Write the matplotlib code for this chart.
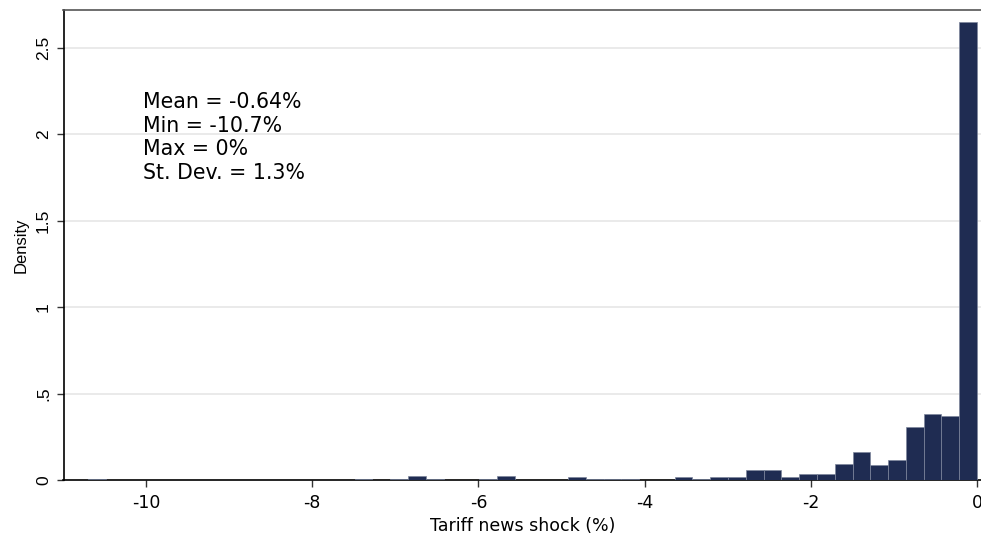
import numpy as np
import matplotlib
matplotlib.use("Agg")
import matplotlib.pyplot as plt

plt.rcParams['font.family'] = ['DejaVu Sans']

# Histogram of the tariff news shock: 50 equal-width bins from the minimum to 0
bin_start = -10.7
bin_width = 0.214
density = [
    0.004, 0, 0, 0, 0, 0, 0, 0, 0, 0,
    0, 0, 0, 0, 0, 0.003, 0, 0.004, 0.025, 0.006,
    0, 0, 0.004, 0.021, 0, 0, 0, 0.016, 0.003, 0.006,
    0.006, 0, 0, 0.016, 0.005, 0.016, 0.016, 0.058, 0.058, 0.016,
    0.035, 0.035, 0.092, 0.164, 0.088, 0.117, 0.305, 0.379, 0.371, 2.65,
]

x_ticks = [-10, -8, -6, -4, -2, 0]
x_tick_labels = ["-10", "-8", "-6", "-4", "-2", "0"]
y_ticks = [0, 0.5, 1, 1.5, 2, 2.5]
y_tick_labels = ["0", ".5", "1", "1.5", "2", "2.5"]

stats_lines = ["Mean = -0.64%", "Min = -10.7%", "Max = 0%", "St. Dev. = 1.3%"]

W, H = 981, 536
fig = plt.figure(figsize=(W / 100, H / 100), dpi=100)
ax = fig.add_axes([63.5 / W, 1 - 480 / H, (981 - 63.5) / W, (480 - 10) / H])

lefts = bin_start + bin_width * np.arange(len(density))
ax.bar(lefts, density, width=bin_width, align='edge',
       color='#1f2c52', edgecolor='#7d869c', linewidth=0.5, zorder=3)

ax.set_xlim(-10.993, 0.048)
ax.set_ylim(0, 2.718)

ax.set_xticks(x_ticks)
ax.set_xticklabels(x_tick_labels, fontsize=12.5, family='DejaVu Sans')
ax.set_yticks(y_ticks)
ax.set_yticklabels(y_tick_labels, fontsize=12.5, rotation=90, va='center',
                   family='Liberation Sans')
ax.tick_params(axis='both', direction='out', length=5, width=1, color='#333333')
ax.tick_params(axis='x', pad=5)
ax.tick_params(axis='y', pad=4)

for y in y_ticks[1:]:
    ax.axhline(y, color='#e6e6e6', linewidth=1.2, zorder=1)

ax.set_xlabel("Tariff news shock (%)", fontsize=12.5, labelpad=4, family='DejaVu Sans')
ax.set_ylabel("Density", fontsize=12, labelpad=5, family='Liberation Sans')

for side in ['left', 'bottom']:
    ax.spines[side].set_color('black')
    ax.spines[side].set_linewidth(1.2)
ax.spines['top'].set_color('#555555')
ax.spines['top'].set_linewidth(1.2)
ax.spines['right'].set_visible(False)

# Summary statistics block in the upper left
y0 = 2.152
step = 23.7 / 172.9
for i, line in enumerate(stats_lines):
    ax.text(-10.04, y0 - i * step, line, fontsize=14.8, va='baseline', ha='left',
            color='black', zorder=4, family='DejaVu Sans')

fig.savefig("out.png", dpi=100)
